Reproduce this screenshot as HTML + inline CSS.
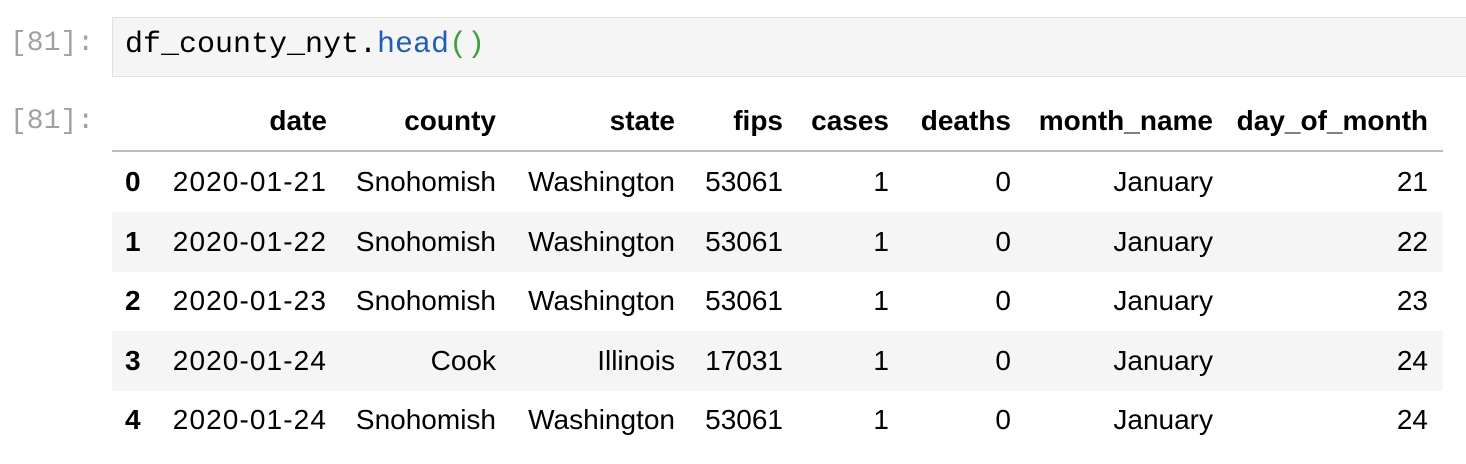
<!DOCTYPE html>
<html><head><meta charset="utf-8"><style>
body{margin:0;width:1466px;height:464px;background:#fff;position:relative;overflow:hidden;font-family:"Liberation Sans",sans-serif;}
.p{position:absolute;font-family:"Liberation Mono",monospace;font-size:28px;color:#a0a0a0;left:10px;}
.inbox{position:absolute;left:112px;top:17px;width:1360px;height:60px;background:#f5f5f5;border:1px solid #e0e0e0;box-sizing:border-box;}
.code{position:absolute;left:12px;top:10px;font-family:"Liberation Mono",monospace;font-size:30px;color:#000;}
.stripe{position:absolute;left:112px;width:1331px;height:60px;background:#f5f5f5;}
.hline{position:absolute;left:112px;width:1331px;top:150px;height:2px;background:#bdbdbd;}
.t{position:absolute;font-size:28px;color:#000;white-space:nowrap;transform:translateY(-50%);}
.h{font-weight:bold;}
.d{letter-spacing:1.1px;}
</style></head><body>
<div class="p" style="top:28px">[81]:</div>
<div class="inbox"><div class="code">df_county_nyt.<span style="color:#1f5fb3">head</span><span style="color:#3ca03c">()</span></div></div>
<div class="p" style="top:106px">[81]:</div>
<div class="stripe" style="top:212px"></div>
<div class="stripe" style="top:331px"></div>
<div class="hline"></div>
<div id="tbl"></div>
<script>
const headers=["date","county","state","fips","cases","deaths","month_name","day_of_month"];
const rows=[
["2020-01-21","Snohomish","Washington","53061","1","0","January","21"],
["2020-01-22","Snohomish","Washington","53061","1","0","January","22"],
["2020-01-23","Snohomish","Washington","53061","1","0","January","23"],
["2020-01-24","Cook","Illinois","17031","1","0","January","24"],
["2020-01-24","Snohomish","Washington","53061","1","0","January","24"]];
const rights=[327,496,675,783,889,1011,1213,1428];
const tbl=document.getElementById('tbl');
function add(txt,right,y,cls,name){const d=document.createElement('div');d.className='t '+cls;d.textContent=txt;d.style.right=(1466-right)+'px';d.style.top=y+'px';


tbl.appendChild(d);}
headers.forEach((h,i)=>add(h,rights[i],121,'h','header-'+h.replace(/_/g,'-')));
rows.forEach((r,ri)=>{const y=182+ri*59.6;
const ix=document.createElement('div');ix.className='t h';ix.textContent=ri;ix.style.left='125px';ix.style.top=y+'px';


tbl.appendChild(ix);
r.forEach((v,ci)=>add(v,rights[ci],y,ci==0?'d':'','cell-'+headers[ci].replace(/_/g,'-')));});
</script>
</body></html>
